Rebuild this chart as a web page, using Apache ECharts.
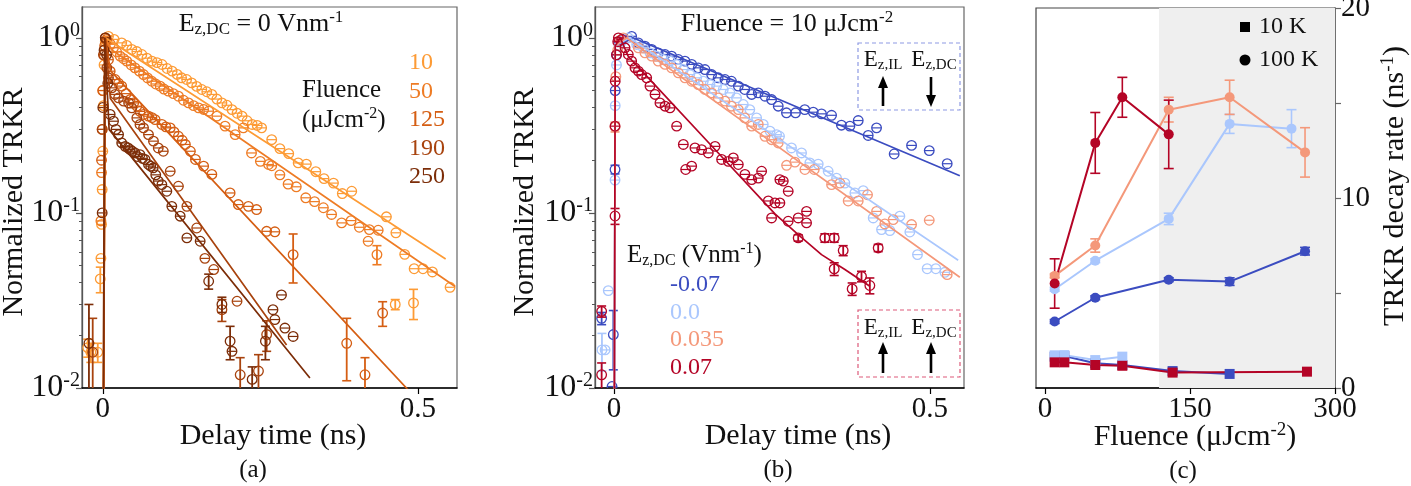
<!DOCTYPE html>
<html>
<head>
<meta charset="utf-8">
<script src="https://cdn.jsdelivr.net/npm/echarts@6/dist/echarts.min.js"></script>
<style>
  html, body { margin: 0; padding: 0; background: #fff; }
  #chart { width: 1411px; height: 486px; }
</style>
</head>
<body>
<div id="chart"></div>
<script>
// panel (a): TRKR vs delay time, E_z,DC = 0, rows are [t (ns), signal, error]
const a10 = [
  [-0.024, 0.017, 0.002], [-0.019, 0.016, 0.002], [-0.008, 0.016, 0.002], [-0.004, 0.042, 0.007],
  [-0.003, 0.055], [-0.002, 0.086], [-0.001, 0.136], [0, 0.225], [0.001, 0.41], [0.002, 0.7], [0.004, 0.95],
  [0.009, 1.02], [0.018, 0.98], [0.030, 0.936], [0.038, 0.905], [0.046, 0.858], [0.054, 0.835], [0.062, 0.803],
  [0.070, 0.765], [0.078, 0.736], [0.086, 0.722], [0.094, 0.704], [0.102, 0.668], [0.110, 0.645], [0.118, 0.618],
  [0.125, 0.591], [0.133, 0.578], [0.141, 0.553], [0.149, 0.528], [0.157, 0.507], [0.165, 0.492], [0.173, 0.475],
  [0.181, 0.447], [0.189, 0.425], [0.197, 0.412], [0.205, 0.389], [0.213, 0.371], [0.221, 0.357], [0.229, 0.336],
  [0.237, 0.320], [0.245, 0.316], [0.252, 0.306], [0.268, 0.262], [0.281, 0.233], [0.295, 0.218], [0.310, 0.193],
  [0.323, 0.190], [0.338, 0.172], [0.351, 0.157], [0.366, 0.148], [0.380, 0.129], [0.395, 0.133], [0.450, 0.095],
  [0.465, 0.077], [0.479, 0.058], [0.494, 0.048], [0.508, 0.048], [0.523, 0.046], [0.551, 0.0376],
  [0.464, 0.030, 0.002], [0.493, 0.0306, 0.006]
];
const a50 = [
  [-0.003, 0.09], [-0.002, 0.17], [-0.001, 0.3], [0, 0.5], [0.002, 0.8],
  [0.0064, 0.957], [0.012, 0.92], [0.017, 0.877], [0.022, 0.83], [0.0275, 0.786], [0.033, 0.76], [0.038, 0.736],
  [0.045, 0.70], [0.051, 0.674], [0.058, 0.645], [0.0646, 0.617], [0.071, 0.59], [0.0778, 0.565], [0.084, 0.545],
  [0.091, 0.530], [0.097, 0.51], [0.104, 0.496], [0.112, 0.48], [0.120, 0.464], [0.128, 0.44], [0.136, 0.425],
  [0.144, 0.41], [0.152, 0.398], [0.160, 0.39], [0.168, 0.381], [0.181, 0.357], [0.194, 0.313], [0.210, 0.280],
  [0.223, 0.306], [0.236, 0.220], [0.250, 0.197], [0.263, 0.189], [0.268, 0.186], [0.281, 0.165], [0.294, 0.146],
  [0.307, 0.141], [0.322, 0.122], [0.336, 0.116], [0.350, 0.107], [0.363, 0.098], [0.379, 0.0877], [0.394, 0.0904],
  [0.407, 0.0828], [0.423, 0.0803], [0.437, 0.0796], [0.421, 0.0689], [0.435, 0.0578, 0.0072]
];
const a125 = [
  [-0.002, 0.2], [0, 0.5], [0.003, 0.9], [0.006, 0.98], [0.009, 0.75],
  [0.0117, 0.645], [0.0196, 0.578], [0.025, 0.55], [0.030, 0.530], [0.037, 0.48], [0.0434, 0.444], [0.049, 0.425],
  [0.054, 0.407], [0.059, 0.38], [0.0646, 0.365], [0.0725, 0.357], [0.078, 0.35], [0.083, 0.341], [0.0937, 0.320],
  [0.100, 0.31], [0.107, 0.306], [0.113, 0.29], [0.120, 0.274], [0.126, 0.26], [0.131, 0.246], [0.139, 0.225],
  [0.147, 0.202], [0.160, 0.185], [0.173, 0.166], [0.202, 0.130], [0.215, 0.1116], [0.231, 0.109], [0.244, 0.1045],
  [0.260, 0.0785], [0.273, 0.078], [0.302, 0.0578, 0.018], [0.387, 0.018, 0.007], [0.416, 0.0119, 0.003],
  [0.444, 0.0268, 0.0043]
];
const a190 = [
  [-0.016, 0.016, 0.009], [-0.001, 0.3], [0.001, 0.8], [0.004, 1.0],
  [0.0064, 0.674], [0.009, 0.591], [0.0143, 0.518], [0.0196, 0.475], [0.025, 0.454], [0.033, 0.435], [0.041, 0.425],
  [0.046, 0.398], [0.054, 0.349], [0.059, 0.320], [0.0646, 0.306], [0.0725, 0.280], [0.0804, 0.257], [0.088, 0.235],
  [0.096, 0.225], [0.107, 0.173], [0.120, 0.142], [0.1334, 0.109], [0.149, 0.082], [0.162, 0.055], [0.176, 0.0475],
  [0.189, 0.028, 0.004], [0.213, 0.0313], [0.218, 0.0119, 0.003], [0.247, 0.0125, 0.003], [0.260, 0.0202, 0.004]
];
const a250 = [
  [-0.022, 0.018, 0.012], [-0.001, 0.1], [0, 0.4], [0.002, 0.85], [0.004, 1.0], [0.006, 0.8], [0.008, 0.55],
  [0.0117, 0.365], [0.017, 0.334], [0.021, 0.3], [0.025, 0.280], [0.030, 0.251], [0.0355, 0.240], [0.040, 0.235],
  [0.0434, 0.230], [0.047, 0.225], [0.051, 0.220], [0.055, 0.21], [0.059, 0.215], [0.063, 0.205], [0.067, 0.202],
  [0.0725, 0.189], [0.076, 0.185], [0.080, 0.181], [0.084, 0.165], [0.088, 0.152], [0.0937, 0.145], [0.1016, 0.133],
  [0.1095, 0.109], [0.1228, 0.0958], [0.1334, 0.072], [0.1545, 0.0689], [0.168, 0.0407, 0.004], [0.189, 0.030, 0.003],
  [0.202, 0.0185, 0.004], [0.205, 0.0162], [0.237, 0.0112, 0.002], [0.258, 0.0185, 0.004], [0.270, 0.028],
  [0.2835, 0.034], [0.273, 0.0246], [0.289, 0.022], [0.302, 0.0197]
];
// exponential fits drawn in (a)
const fitA10 = [[0, 0.001], [0.004, 1.0], [0.544, 0.0546]];
const fitA50 = [[0, 0.001], [0.003, 1.0], [0.015, 0.85], [0.559, 0.038]];
const fitA125 = [[0, 0.001], [0.004, 1.0], [0.012, 0.65], [0.5, 0.0085]];
const fitA190 = [[0, 0.001], [0.004, 1.0], [0.012, 0.45], [0.2916, 0.0176]];
const fitA250 = [[0, 0.001], [0.003, 1.0], [0.010, 0.30], [0.3286, 0.0114]];

// panel (b): fluence 10 uJcm^-2, different E_z,DC
const bM007 = [
  [-0.0195, 0.025, 0.002], [-0.001, 0.0202, 0.0075], [-0.003, 0.0102], [0.0017, 0.177, 0.01], [0.002, 0.5],
  [0.004, 0.8], [0.008, 0.95], [0.015, 0.98],
  [0.028, 1.02], [0.0386, 0.936], [0.049, 0.896], [0.0597, 0.858], [0.070, 0.821], [0.0808, 0.803], [0.0913, 0.786],
  [0.1019, 0.752], [0.1124, 0.736], [0.123, 0.705], [0.1335, 0.674], [0.144, 0.659], [0.1546, 0.617], [0.165, 0.591],
  [0.1757, 0.578], [0.186, 0.565], [0.1968, 0.530], [0.207, 0.507], [0.218, 0.475], [0.2284, 0.485], [0.239, 0.464],
  [0.2495, 0.444], [0.260, 0.407], [0.273, 0.373], [0.2874, 0.373], [0.302, 0.389], [0.3154, 0.376], [0.3285, 0.368],
  [0.3444, 0.361], [0.360, 0.317], [0.3734, 0.313], [0.3866, 0.337], [0.4024, 0.277], [0.4156, 0.306], [0.4435, 0.217],
  [0.471, 0.243], [0.499, 0.227], [0.5274, 0.191]
];
const b0 = [
  [-0.009, 0.036], [-0.019, 0.0165, 0.004], [-0.014, 0.0165], [0.0017, 0.154], [0.002, 0.41], [0.004, 0.7],
  [0.008, 0.9], [0.012, 0.95],
  [0.0227, 1.0], [0.036, 0.916], [0.0465, 0.877], [0.057, 0.821], [0.0676, 0.786], [0.078, 0.752], [0.0887, 0.736],
  [0.099, 0.705], [0.1098, 0.659], [0.120, 0.617], [0.131, 0.591], [0.1414, 0.565], [0.152, 0.541], [0.1625, 0.530],
  [0.173, 0.507], [0.1836, 0.485], [0.194, 0.454], [0.2047, 0.416], [0.215, 0.389], [0.2258, 0.349], [0.2363, 0.320],
  [0.247, 0.293], [0.2574, 0.280], [0.262, 0.274], [0.281, 0.235], [0.2969, 0.220], [0.310, 0.193], [0.3233, 0.190],
  [0.339, 0.173], [0.3523, 0.158], [0.3655, 0.148], [0.3813, 0.130], [0.3945, 0.134], [0.4103, 0.0936],
  [0.4235, 0.0803], [0.4367, 0.0793], [0.4525, 0.0958], [0.4683, 0.0778], [0.4804, 0.0578], [0.4957, 0.048],
  [0.5094, 0.048], [0.5237, 0.0458]
];
const b035 = [
  [0.0017, 0.31, 0.02], [0.003, 0.6], [0.006, 0.85], [0.010, 0.97],
  [0.0148, 1.0], [0.0386, 0.877], [0.049, 0.821], [0.0597, 0.786], [0.070, 0.736], [0.0808, 0.705], [0.0913, 0.674],
  [0.1019, 0.631], [0.1124, 0.591], [0.123, 0.565], [0.1335, 0.541], [0.144, 0.507], [0.1546, 0.485], [0.165, 0.454],
  [0.1757, 0.435], [0.186, 0.407], [0.1968, 0.389], [0.207, 0.349], [0.218, 0.313], [0.2284, 0.320], [0.239, 0.274],
  [0.2495, 0.262], [0.260, 0.251], [0.2732, 0.187], [0.2864, 0.195], [0.3022, 0.177], [0.317, 0.177], [0.3444, 0.145],
  [0.3576, 0.148], [0.3707, 0.117], [0.3866, 0.117], [0.4013, 0.127], [0.4156, 0.102], [0.4287, 0.0865],
  [0.442, 0.0916], [0.471, 0.0858], [0.499, 0.0908], [0.5274, 0.0444]
];
const b07 = [
  [-0.0195, 0.0274, 0.002], [-0.0195, 0.0119, 0.002], [0.0017, 0.096, 0.01], [0.0017, 0.313], [0.002, 0.565],
  [0.004, 0.8], [0.006, 0.95],
  [0.007, 1.0], [0.0122, 0.978], [0.0175, 0.877], [0.0227, 0.803], [0.028, 0.736], [0.0333, 0.674], [0.0386, 0.645],
  [0.0438, 0.617], [0.0518, 0.591], [0.057, 0.530], [0.065, 0.475], [0.0728, 0.425], [0.0808, 0.407], [0.0887, 0.398],
  [0.0992, 0.313], [0.1098, 0.246], [0.1135, 0.177], [0.123, 0.185], [0.1282, 0.235], [0.1388, 0.230], [0.1493, 0.220],
  [0.160, 0.240], [0.1704, 0.202], [0.181, 0.197], [0.1889, 0.206], [0.1968, 0.189], [0.2073, 0.166], [0.218, 0.155],
  [0.2284, 0.158], [0.2337, 0.173], [0.2443, 0.117], [0.2548, 0.114], [0.2495, 0.0936], [0.268, 0.152],
  [0.2626, 0.155], [0.2758, 0.133], [0.2626, 0.114], [0.2758, 0.0896], [0.2916, 0.0936], [0.3048, 0.102],
  [0.3048, 0.0877], [0.2916, 0.072, 0.003], [0.3338, 0.072, 0.004], [0.3486, 0.072, 0.004], [0.3628, 0.061, 0.004],
  [0.3486, 0.0479, 0.004], [0.3918, 0.0434, 0.003], [0.377, 0.0368, 0.003], [0.405, 0.0385, 0.004],
  [0.4182, 0.0631, 0.003]
];
const fitBM007 = [[0, 0.001], [0.002, 0.9], [0.03, 1.0], [0.5474, 0.163]];
const fitB0 = [[0, 0.001], [0.002, 0.9], [0.025, 1.0], [0.5448, 0.0537]];
const fitB035 = [[0, 0.001], [0.002, 0.9], [0.02, 1.0], [0.5474, 0.0429]];
const fitB07 = [[0, 0.001], [0.002, 0.9], [0.010, 1.0], [0.0227, 0.782], [0.0544, 0.591], [0.1625, 0.225],
  [0.2548, 0.0987], [0.2916, 0.0752], [0.3285, 0.0578], [0.3655, 0.0475], [0.405, 0.0381]];

// panel (c): decay rate (ns^-1) vs fluence, rows are [fluence, rate, error]
const c100M007 = [[10, 3.5, 0.1], [52, 4.75, 0.1], [128, 5.7, 0.1], [191, 5.6, 0.2], [269, 7.2, 0.2]];
const c100Zero = [[10, 5.2, 0.1], [52, 6.7, 0.1], [128, 8.9, 0.3], [191, 13.9, 0.5], [255, 13.65, 1.0]];
const c100P035 = [[10, 5.9, 0.1], [52, 7.5, 0.35], [128, 14.65, 0.65], [191, 15.3, 0.9], [269, 12.4, 1.3]];
const c100P07 = [[10, 5.5, 1.3], [52, 12.9, 1.6], [80, 15.3, 1.05], [128, 13.35, 1.8]];
const c10M007 = [[10, 1.65], [20, 1.68], [52, 1.3], [80, 1.21], [132, 0.89], [191, 0.74]];
const c10Zero = [[10, 1.72], [20, 1.73], [52, 1.47], [80, 1.65]];
const c10P07 = [[10, 1.35], [20, 1.35], [52, 1.21], [80, 1.17], [132, 0.81], [271, 0.86]];

const logMajor = [0.01, 0.1, 1];
const logMinor = [0.02, 0.03, 0.04, 0.05, 0.06, 0.07, 0.08, 0.09, 0.2, 0.3, 0.4, 0.5, 0.6, 0.7, 0.8, 0.9];
const timeTicks = [0, 0.5];
const fluenceTicks = [0, 150, 300];

const SERIF = '"Liberation Serif", "Times New Roman", "DejaVu Serif", serif';
const INK = '#111';
const orange = ['#fd9b35', '#ee7c25', '#d55e13', '#a8430e', '#7c2d08'];
const cool = ['#3b4cc0', '#aac7fd', '#f4987a', '#b40426'];

function richFor(size, color, key) {
  const s = Math.round(size * 0.64);
  const c = {};
  c[key] = color;
  return {
    sup: Object.assign({ fontSize: s, lineHeight: Math.round(size * 0.4), verticalAlign: 'top', fontFamily: SERIF }, c),
    sub: Object.assign({ fontSize: s, lineHeight: Math.round(size * 0.4), verticalAlign: 'bottom', fontFamily: SERIF }, c)
  };
}

function txt(x, y, text, size, opt) {
  opt = opt || {};
  const color = opt.color || INK;
  return {
    type: 'text', x: x, y: y, rotation: opt.rot || 0, z: 100, silent: true,
    style: {
      text: text, fontSize: size, fontFamily: SERIF, fill: color,
      align: opt.align || 'center', verticalAlign: 'middle', lineHeight: Math.round(size * 1.1),
      rich: richFor(size, color, 'fill')
    }
  };
}

function arrow(x, yTail, yHead) {
  const dir = yHead < yTail ? 1 : -1;
  return [
    { type: 'line', z: 100, silent: true, shape: { x1: x, y1: yTail, x2: x, y2: yHead + dir * 8 }, style: { stroke: '#000', lineWidth: 2.6 } },
    { type: 'polygon', z: 100, silent: true, shape: { points: [[x, yHead], [x - 5, yHead + dir * 12], [x + 5, yHead + dir * 12]] }, style: { fill: '#000' } }
  ];
}

function rows(list) {
  return list.map(r => [r[0], r[1], r[2] || 0]);
}

// open circle with error bar (or flat bar when the error is tiny)
function openMarker(color) {
  return function (params, api) {
    const t = api.value(0), v = api.value(1), e = api.value(2) || 0;
    const p = api.coord([t, v]);
    const r = 4.8;
    const kids = [{ type: 'circle', shape: { cx: p[0], cy: p[1], r: r }, style: { fill: 'none', stroke: color, lineWidth: 1.3 } }];
    if (e > 0) {
      const top = api.coord([t, v + e]);
      const bot = api.coord([t, Math.max(v - e, 1e-4)]);
      kids.push({ type: 'line', shape: { x1: p[0], y1: top[1], x2: p[0], y2: bot[1] }, style: { stroke: color, lineWidth: 1.8 } });
      kids.push({ type: 'line', shape: { x1: p[0] - 4.5, y1: top[1], x2: p[0] + 4.5, y2: top[1] }, style: { stroke: color, lineWidth: 1.6 } });
      kids.push({ type: 'line', shape: { x1: p[0] - 4.5, y1: bot[1], x2: p[0] + 4.5, y2: bot[1] }, style: { stroke: color, lineWidth: 1.6 } });
    } else {
      kids.push({ type: 'line', shape: { x1: p[0] - r, y1: p[1], x2: p[0] + r, y2: p[1] }, style: { stroke: color, lineWidth: 1.2 } });
    }
    return { type: 'group', children: kids };
  };
}

function errBars(color) {
  return function (params, api) {
    const x = api.value(0), v = api.value(1), e = api.value(2) || 0;
    if (!(e > 0)) return null;
    const top = api.coord([x, v + e]);
    const bot = api.coord([x, v - e]);
    const style = { stroke: color, lineWidth: 1.6 };
    return {
      type: 'group', children: [
        { type: 'line', shape: { x1: top[0], y1: top[1], x2: bot[0], y2: bot[1] }, style: style },
        { type: 'line', shape: { x1: top[0] - 5, y1: top[1], x2: top[0] + 5, y2: top[1] }, style: style },
        { type: 'line', shape: { x1: bot[0] - 5, y1: bot[1], x2: bot[0] + 5, y2: bot[1] }, style: style }
      ]
    };
  };
}

function scatterSeries(data, color, xi, yi) {
  return {
    type: 'custom', xAxisIndex: xi, yAxisIndex: yi, clip: true, z: 2, silent: true,
    encode: { x: 0, y: 1 }, data: rows(data), renderItem: openMarker(color)
  };
}
function fitSeries(data, color, xi, yi) {
  return {
    type: 'line', xAxisIndex: xi, yAxisIndex: yi, data: data, showSymbol: false, clip: true, z: 3, silent: true,
    lineStyle: { color: color, width: 1.7 }, animation: false
  };
}

function logLabel(v) {
  const e = v > 0 ? Math.round(Math.log10(v)) : Math.round(v);
  return '10{sup|' + e + '}';
}

function timeAxis(gi, min, max) {
  return {
    gridIndex: gi, type: 'value', min: min, max: max,
    axisLine: { onZero: false, lineStyle: { color: '#000', width: 1.5 } },
    axisTick: { customValues: timeTicks, length: 6, lineStyle: { color: '#000', width: 1.2 } },
    axisLabel: { customValues: timeTicks, fontSize: 29, fontFamily: SERIF, color: INK, margin: 7 },
    splitLine: { show: false }
  };
}
function logAxisMajor(gi) {
  return {
    gridIndex: gi, type: 'log', logBase: 10, min: 0.01, max: 1.5, position: 'left',
    axisLine: { onZero: false, lineStyle: { color: '#555', width: 1.3 } },
    axisTick: { customValues: logMajor, length: 6, lineStyle: { color: '#555', width: 1.2 } },
    axisLabel: {
      customValues: logMajor, formatter: logLabel, fontSize: 32, fontFamily: SERIF, color: INK,
      margin: 2, lineHeight: 34, rich: richFor(32, INK, 'color')
    },
    splitLine: { show: false }
  };
}
function logAxisMinor(gi) {
  return {
    gridIndex: gi, type: 'log', logBase: 10, min: 0.01, max: 1.5, position: 'left', offset: 0,
    axisLine: { show: false, onZero: false },
    axisTick: { customValues: logMinor, length: 3, lineStyle: { color: '#555', width: 1 } },
    axisLabel: { show: false },
    splitLine: { show: false }
  };
}

const series = [];
// (a)
[a10, a50, a125, a190, a250].forEach((d, i) => series.push(scatterSeries(d, orange[i], 0, 0)));
[fitA10, fitA50, fitA125, fitA190, fitA250].forEach((d, i) => series.push(fitSeries(d, orange[i], 0, 0)));
// (b)
[bM007, b0, b035, b07].forEach((d, i) => series.push(scatterSeries(d, cool[i], 1, 2)));
[fitBM007, fitB0, fitB035, fitB07].forEach((d, i) => series.push(fitSeries(d, cool[i], 1, 2)));
// (c) shaded high-fluence band
series.push({
  type: 'line', xAxisIndex: 2, yAxisIndex: 4, data: [], z: 0, silent: true,
  markArea: { silent: true, itemStyle: { color: '#efefef' }, data: [[{ xAxis: 118 }, { xAxis: 300 }]] }
});
const c100 = [c100M007, c100Zero, c100P035, c100P07];
c100.forEach((d, i) => series.push({
  type: 'custom', xAxisIndex: 2, yAxisIndex: 4, z: 2, silent: true, encode: { x: 0, y: 1 },
  data: rows(d), renderItem: errBars(cool[i])
}));
c100.forEach((d, i) => series.push({
  type: 'line', xAxisIndex: 2, yAxisIndex: 4, z: 3, silent: true, data: d,
  symbol: 'circle', symbolSize: 10, showSymbol: true,
  itemStyle: { color: cool[i] }, lineStyle: { color: cool[i], width: 2 }
}));
[[c10M007, 0], [c10Zero, 1], [c10P07, 3]].forEach(([d, i]) => series.push({
  type: 'line', xAxisIndex: 2, yAxisIndex: 4, z: 3, silent: true, data: d,
  symbol: 'rect', symbolSize: 10, showSymbol: true,
  itemStyle: { color: cool[i] }, lineStyle: { color: cool[i], width: 2 }
}));

const graphic = [
  // (a) annotations
  txt(261, 24, 'E{sub|z,DC} = 0 Vnm{sup|-1}', 26),
  txt(302, 90, 'Fluence', 25, { align: 'left' }),
  txt(302, 120, '(μJcm{sup|-2})', 25, { align: 'left' }),
  txt(409, 63, '10', 24, { align: 'left', color: orange[0] }),
  txt(409, 92, '50', 24, { align: 'left', color: orange[1] }),
  txt(409, 120, '125', 24, { align: 'left', color: orange[2] }),
  txt(409, 149, '190', 24, { align: 'left', color: orange[3] }),
  txt(409, 177, '250', 24, { align: 'left', color: orange[4] }),
  txt(14, 202, 'Normalized TRKR', 30, { rot: Math.PI / 2 }),
  txt(273, 436, 'Delay time (ns)', 30),
  txt(253, 470, '(a)', 25),
  // (b) annotations
  txt(787, 24, 'Fluence = 10 μJcm{sup|-2}', 26),
  txt(627, 255, 'E{sub|z,DC} (Vnm{sup|-1})', 25, { align: 'left' }),
  txt(670, 285, '-0.07', 24, { align: 'left', color: cool[0] }),
  txt(670, 313, '0.0', 24, { align: 'left', color: cool[1] }),
  txt(670, 340, '0.035', 24, { align: 'left', color: cool[2] }),
  txt(670, 368, '0.07', 24, { align: 'left', color: cool[3] }),
  txt(525, 202, 'Normalized TRKR', 30, { rot: Math.PI / 2 }),
  txt(798, 436, 'Delay time (ns)', 30),
  txt(778, 470, '(b)', 25),
  { type: 'rect', z: 99, silent: true, shape: { x: 858, y: 43, width: 102, height: 67 },
    style: { fill: 'none', stroke: '#8e9ae3', lineWidth: 1.2, lineDash: [4, 3] } },
  { type: 'rect', z: 99, silent: true, shape: { x: 858, y: 310, width: 102, height: 67 },
    style: { fill: 'none', stroke: '#dd5a7a', lineWidth: 1.2, lineDash: [4, 3] } },
  txt(883, 60, 'E{sub|z,IL}', 23),
  txt(934, 60, 'E{sub|z,DC}', 23),
  txt(883, 328, 'E{sub|z,IL}', 23),
  txt(934, 328, 'E{sub|z,DC}', 23),
  ...arrow(883, 106, 76),
  ...arrow(931, 77, 107),
  ...arrow(883, 373, 342),
  ...arrow(931, 373, 342),
  // (c) annotations
  { type: 'rect', z: 99, silent: true, shape: { x: 1240, y: 22, width: 10, height: 10 }, style: { fill: '#000' } },
  txt(1259, 27, '10 K', 24, { align: 'left' }),
  { type: 'circle', z: 99, silent: true, shape: { cx: 1245, cy: 60, r: 5.5 }, style: { fill: '#000' } },
  txt(1259, 60, '100 K', 24, { align: 'left' }),
  txt(1395, 186, 'TRKR decay rate (ns{sup|-1})', 30, { rot: Math.PI / 2 }),
  txt(1195, 437, 'Fluence (μJcm{sup|-2})', 30),
  txt(1183, 471, '(c)', 25)
];

const chart = echarts.init(document.getElementById('chart'), null, { renderer: 'canvas' });
chart.setOption({
  animation: false,
  backgroundColor: '#fff',
  textStyle: { fontFamily: SERIF },
  grid: [
    { left: 82, top: 7, width: 375, height: 381, show: true, borderColor: '#666', borderWidth: 1.2, outerBoundsMode: 'none', containLabel: false },
    { left: 595, top: 7, width: 369, height: 381, show: true, borderColor: '#666', borderWidth: 1.2, outerBoundsMode: 'none', containLabel: false },
    { left: 1036, top: 8, width: 299, height: 380, show: true, borderColor: '#444', borderWidth: 1.2, outerBoundsMode: 'none', containLabel: false }
  ],
  xAxis: [
    timeAxis(0, -0.033, 0.562),
    timeAxis(1, -0.030, 0.554),
    {
      gridIndex: 2, type: 'value', min: -9.3, max: 300,
      axisLine: { onZero: false, lineStyle: { color: '#000', width: 1.5 } },
      axisTick: { customValues: fluenceTicks, length: 6, lineStyle: { color: '#000', width: 1.2 } },
      axisLabel: { customValues: fluenceTicks, fontSize: 29, fontFamily: SERIF, color: INK, margin: 7 },
      splitLine: { show: false }
    }
  ],
  yAxis: [
    logAxisMajor(0), logAxisMinor(0),
    logAxisMajor(1), logAxisMinor(1),
    {
      gridIndex: 2, type: 'value', min: 0, max: 20, interval: 5, position: 'right',
      axisLine: { onZero: false, lineStyle: { color: '#666', width: 1.5 } },
      axisTick: { length: 6, lineStyle: { color: '#666', width: 1.2 } },
      axisLabel: {
        fontSize: 29, fontFamily: SERIF, color: INK, margin: 6,
        formatter: v => (v % 10 === 0 ? String(v) : '')
      },
      splitLine: { show: false }
    }
  ],
  series: series,
  graphic: graphic
});
</script>
</body>
</html>
